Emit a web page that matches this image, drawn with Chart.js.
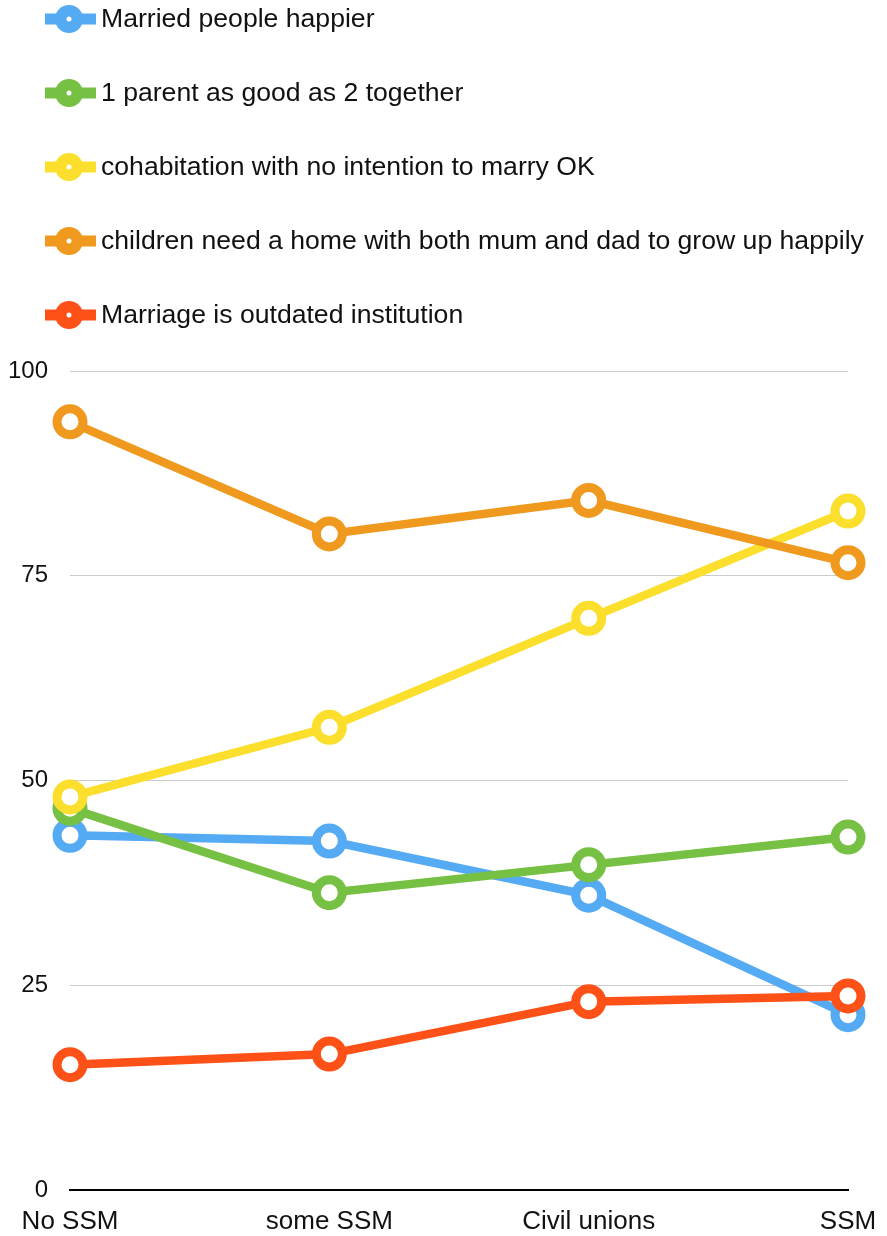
<!DOCTYPE html>
<html>
<head>
<meta charset="utf-8">
<script src="https://cdn.jsdelivr.net/npm/chart.js@4.4.0/dist/chart.umd.min.js"></script>
<style>
  html, body { margin: 0; padding: 0; background: #fff; }
  #wrap { width: 887px; height: 1236px; position: relative; }
</style>
</head>
<body>
<div id="wrap"><canvas id="chart"></canvas></div>
<script>
const categories = ['No SSM', 'some SSM', 'Civil unions', 'SSM'];
const yTicks = [0, 25, 50, 75, 100];

const seriesNames = [
    'Married people happier',
    '1 parent as good as 2 together',
    'cohabitation with no intention to marry OK',
    'children need a home with both mum and dad to grow up happily',
    'Marriage is outdated institution'
];
const marriedHappier = [43.3, 42.6, 36.0, 21.4];
const oneParent = [46.6, 36.3, 39.7, 43.1];
const cohabitation = [48.0, 56.5, 69.8, 82.9];
const bothParents = [93.8, 80.1, 84.2, 76.6];
const outdated = [15.3, 16.6, 23.0, 23.7];

const seriesValues = [marriedHappier, oneParent, cohabitation, bothParents, outdated];
const seriesColors = ['#55aaf4', '#76c043', '#fbdf2c', '#f0991f', '#fe5118'];

const FONT = '"Liberation Sans", Arial, Helvetica, sans-serif';

// legend drawn as a vertical list above the plot
const legendList = {
    id: 'legendList',
    afterDraw(chart) {
        const ctx = chart.ctx;
        ctx.save();
        chart.data.datasets.forEach((ds, i) => {
            const y = 19 + i * 74;
            ctx.strokeStyle = ds.borderColor;
            ctx.lineWidth = 11;
            ctx.beginPath();
            ctx.moveTo(45, y);
            ctx.lineTo(96, y);
            ctx.stroke();
            ctx.fillStyle = ds.borderColor;
            ctx.beginPath();
            ctx.arc(69, y, 14, 0, Math.PI * 2);
            ctx.fill();
            ctx.fillStyle = '#fff';
            ctx.beginPath();
            ctx.arc(69, y, 2.5, 0, Math.PI * 2);
            ctx.fill();
            ctx.fillStyle = '#111';
            ctx.font = '26.6px ' + FONT;
            ctx.textBaseline = 'middle';
            ctx.fillText(ds.label, 101, y + 1);
        });
        ctx.restore();
    }
};

const datasets = seriesNames.map((name, i) => ({
    label: name,
    data: seriesValues[i],
    borderColor: seriesColors[i],
    backgroundColor: '#fff',
    pointBackgroundColor: '#fff',
    pointBorderColor: seriesColors[i],
    borderWidth: 8.5,
    pointRadius: 13,
    pointBorderWidth: 9,
    pointHoverRadius: 13,
    tension: 0,
    fill: false,
    clip: false,
    order: seriesNames.length - i
}));

new Chart(document.getElementById('chart'), {
    type: 'line',
    data: { labels: categories, datasets: datasets },
    plugins: [legendList],
    options: {
        responsive: true,
        maintainAspectRatio: false,
        animation: false,
        layout: { padding: { top: 371, left: 0, right: 39, bottom: 0 } },
        plugins: {
            legend: { display: false },
            tooltip: { enabled: false }
        },
        scales: {
            x: {
                offset: false,
                afterFit(scale) {
                    scale.height = 46;
                    scale.paddingLeft = 0;
                    scale.paddingRight = 0;
                },
                grid: { display: false, drawTicks: false },
                border: { display: true, color: '#000', width: 2 },
                ticks: {
                    color: '#111',
                    font: { family: FONT, size: 26 },
                    padding: 16,
                    maxRotation: 0,
                    autoSkip: false
                }
            },
            y: {
                min: 0,
                max: 100,
                afterBuildTicks(scale) {
                    scale.ticks = yTicks.map(v => ({ value: v }));
                },
                afterFit(scale) {
                    scale.width = 70;
                },
                grid: { color: '#cccccc', lineWidth: 1, drawTicks: false },
                border: { display: false },
                ticks: {
                    color: '#111',
                    font: { family: FONT, size: 24 },
                    padding: 22
                }
            }
        }
    }
});
</script>
</body>
</html>
